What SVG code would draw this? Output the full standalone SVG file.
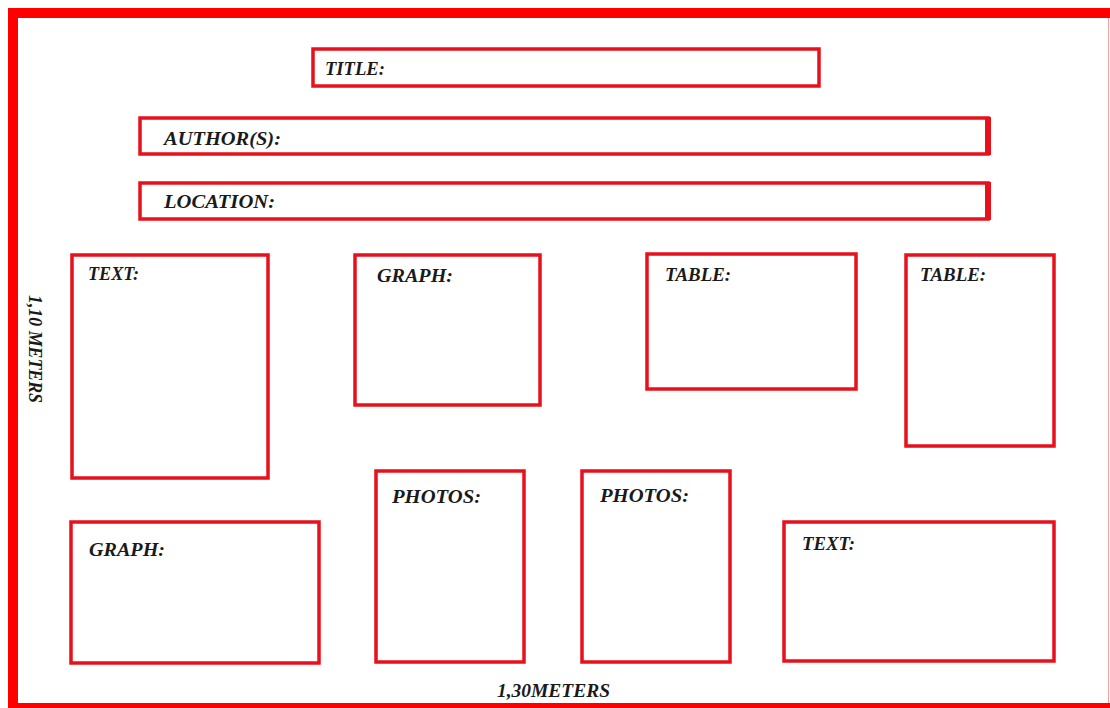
<svg xmlns="http://www.w3.org/2000/svg" width="1110" height="708" viewBox="0 0 1110 708">
<style>
.box{fill:#fff;stroke:#e8111b;stroke-width:3.5}
.lbl{font-family:"Liberation Serif",serif;font-weight:bold;font-style:italic;font-size:19px;fill:#1a1a1a}
</style>
<rect width="1110" height="708" fill="#fff"/>
<g id="frame">
<rect x="8" y="8" width="1102" height="10" fill="#ff0000"/>
<rect x="8" y="8" width="10" height="700" fill="#ff0000"/>
<rect x="8" y="703" width="1102" height="5" fill="#ff0000"/>
<line x1="1108.5" y1="18" x2="1108.5" y2="703" stroke="#f6a0a0" stroke-width="1"/>
</g>
<g id="title"><rect class="box" x="313" y="49" width="506" height="37"/><text class="lbl" x="325" y="75" textLength="60" lengthAdjust="spacingAndGlyphs">TITLE:</text></g>
<g id="authors"><rect class="box" x="140" y="118" width="848" height="36"/><rect x="985" y="117" width="6" height="38" fill="#e8111b"/><text class="lbl" x="164" y="145" textLength="117" lengthAdjust="spacingAndGlyphs">AUTHOR(S):</text></g>
<g id="location"><rect class="box" x="140" y="183" width="848" height="36"/><rect x="985" y="182" width="6" height="38" fill="#e8111b"/><text class="lbl" x="164" y="208" textLength="111" lengthAdjust="spacingAndGlyphs">LOCATION:</text></g>
<g id="text1"><rect class="box" x="72" y="255" width="196" height="223"/><text class="lbl" x="88" y="280" textLength="51" lengthAdjust="spacingAndGlyphs">TEXT:</text></g>
<g id="graph1"><rect class="box" x="355" y="255" width="185" height="150"/><text class="lbl" x="377" y="282" textLength="76" lengthAdjust="spacingAndGlyphs">GRAPH:</text></g>
<g id="table1"><rect class="box" x="647" y="254" width="209" height="135"/><text class="lbl" x="665" y="281" textLength="66" lengthAdjust="spacingAndGlyphs">TABLE:</text></g>
<g id="table2"><rect class="box" x="906" y="255" width="148" height="191"/><text class="lbl" x="920" y="281" textLength="66" lengthAdjust="spacingAndGlyphs">TABLE:</text></g>
<g id="graph2"><rect class="box" x="71" y="522" width="248" height="141"/><text class="lbl" x="89" y="556" textLength="76" lengthAdjust="spacingAndGlyphs">GRAPH:</text></g>
<g id="photos1"><rect class="box" x="376" y="471" width="148" height="191"/><text class="lbl" x="392" y="503" textLength="89" lengthAdjust="spacingAndGlyphs">PHOTOS:</text></g>
<g id="photos2"><rect class="box" x="582" y="471" width="148" height="191"/><text class="lbl" x="600" y="502" textLength="89" lengthAdjust="spacingAndGlyphs">PHOTOS:</text></g>
<g id="text2"><rect class="box" x="784" y="522" width="270" height="139"/><text class="lbl" x="802" y="550" textLength="53" lengthAdjust="spacingAndGlyphs">TEXT:</text></g>
<g id="dims">
<text class="lbl" x="0" y="0" transform="translate(29,295) rotate(90)" textLength="108" lengthAdjust="spacingAndGlyphs">1,10 METERS</text>
<text class="lbl" x="497" y="697" textLength="113" lengthAdjust="spacingAndGlyphs">1,30METERS</text>
</g>
<g id="connectors"></g>
</svg>
